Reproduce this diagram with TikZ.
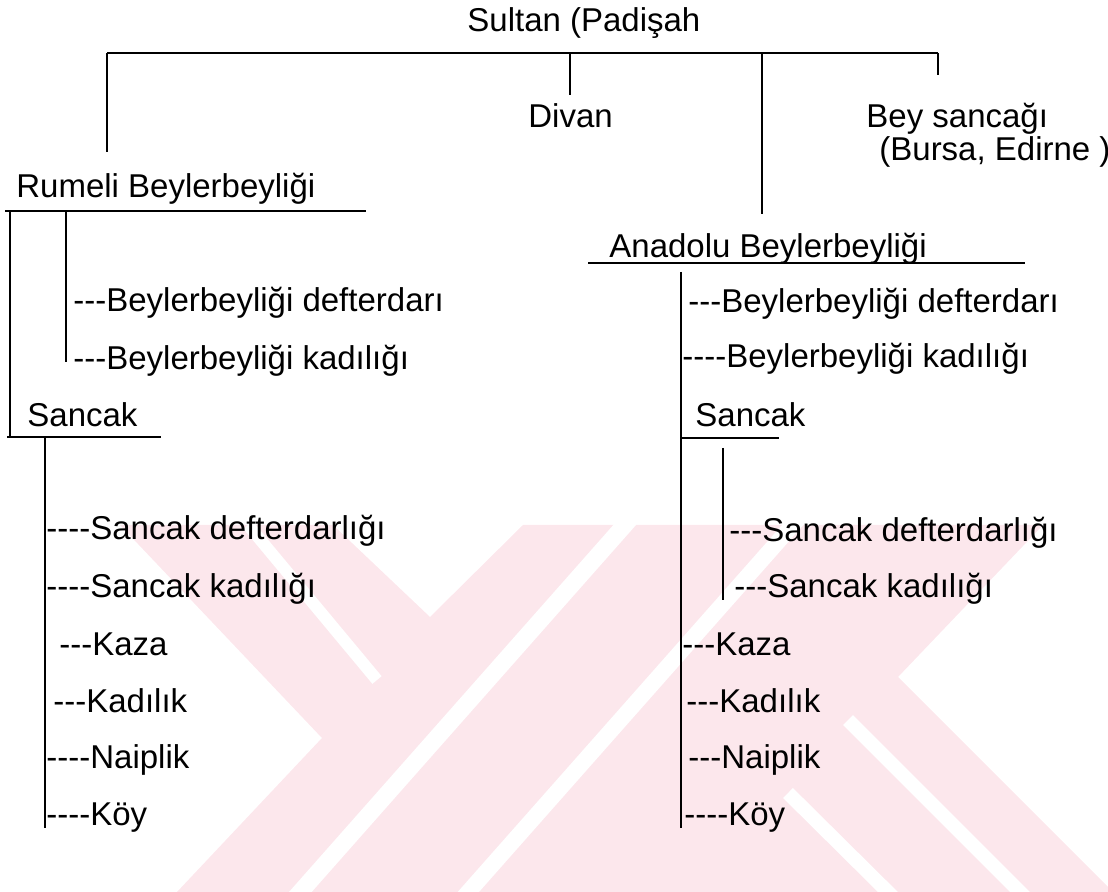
\documentclass[tikz,border=0pt]{standalone}
\usepackage{fontspec}
\setmainfont{Liberation Sans}[Ligatures=TeXOff]
\definecolor{emblem}{RGB}{252,231,236}
\begin{document}
\begin{tikzpicture}[x=0.5pt,y=-0.5pt,
  lbl/.style={anchor=base west, inner sep=0pt, font=\fontsize{16.5}{20}\selectfont},
  tie/.style={line width=1.1pt, line cap=butt},
  gap/.style={white, line width=#1}]
\useasboundingbox (0,0) rectangle (1108,892);

% faint background emblem
\begin{scope}
  \clip (0,525) rectangle (1108,892);
  \fill[emblem] (120,525) -- (333,525) -- (430,617) -- (523,525) -- (1043,525)
     -- (898,677) -- (1113,892) -- (177,892) -- (322,738) -- cycle;
  \draw[gap=6pt]   (248,525) -- (377,680);
  \draw[gap=8.5pt] (280,915) -- (645,502);
  \draw[gap=8pt]   (448,915) -- (813,502);
  \draw[gap=7pt]   (848,720) -- (1030,902);
  \draw[gap=7pt]   (788,793) -- (898,902);
\end{scope}

% texts
\node[lbl] (sultan)  at (467,32)  {Sultan (Padişah};
\node[lbl] (divan)   at (528,128) {Divan};
\node[lbl] (bey)     at (866,128) {Bey sancağı};
\node[lbl] (bursa)   at (879,161) {(Bursa, Edirne )};

\node[lbl] (rumeli)  at (16,198)  {Rumeli Beylerbeyliği};
\node[lbl] (rdef)    at (73,312)  {---Beylerbeyliği defterdarı};
\node[lbl] (rkad)    at (73,370)  {---Beylerbeyliği kadılığı};
\node[lbl] (rsancak) at (27,427)  {Sancak};
\node[lbl] (rsdef)   at (46,540)  {----Sancak defterdarlığı};
\node[lbl] (rskad)   at (46,597)  {----Sancak kadılığı};
\node[lbl] (rkaza)   at (59,655)  {---Kaza};
\node[lbl] (rkadilik) at (53,712) {---Kadılık};
\node[lbl] (rnaip)   at (46,768)  {----Naiplik};
\node[lbl] (rkoy)    at (46,825)  {----Köy};

\node[lbl] (anadolu) at (609,258) {Anadolu Beylerbeyliği};
\node[lbl] (adef)    at (688,313) {---Beylerbeyliği defterdarı};
\node[lbl] (akad)    at (682,368) {----Beylerbeyliği kadılığı};
\node[lbl] (asancak) at (695,427) {Sancak};
\node[lbl] (asdef)   at (729,542) {---Sancak defterdarlığı};
\node[lbl] (askad)   at (734,597) {---Sancak kadılığı};
\node[lbl] (akaza)   at (682,655) {---Kaza};
\node[lbl] (akadilik) at (686,712) {---Kadılık};
\node[lbl] (anaip)   at (688,768) {---Naiplik};
\node[lbl] (akoy)    at (684,825) {----Köy};

% junction points of the tree
\coordinate (barL) at (107,53);
\coordinate (barD) at (570,53);
\coordinate (barA) at (762,53);
\coordinate (barR) at (938,53);
\coordinate (toR)  at (107,152);
\coordinate (toD)  at (570,95);
\coordinate (toA)  at (762,214);
\coordinate (toB)  at (938,75);

\coordinate (rulL) at (5,211);
\coordinate (rulR) at (366,211);
\coordinate (rvTop) at (10,211);
\coordinate (rvBot) at (10,437);
\coordinate (riTop) at (66,211);
\coordinate (riBot) at (66,362);
\coordinate (rsL) at (7,437);
\coordinate (rsR) at (161,437);
\coordinate (rsTop) at (45,437);
\coordinate (rsBot) at (45,828);

\coordinate (aulL) at (588,263);
\coordinate (aulR) at (1025,263);
\coordinate (avTop) at (681,272);
\coordinate (avBot) at (681,828);
\coordinate (asL) at (681,438);
\coordinate (asR) at (779,438);
\coordinate (aiTop) at (723,448);
\coordinate (aiBot) at (723,600);

% connectors
\draw[tie] (barL) -- (barR);
\draw[tie] (barL) -- (toR);
\draw[tie] (barD) -- (toD);
\draw[tie] (barA) -- (toA);
\draw[tie] (barR) -- (toB);

\draw[tie] (rulL) -- (rulR);
\draw[tie] (rvTop) -- (rvBot);
\draw[tie] (riTop) -- (riBot);
\draw[tie] (rsL) -- (rsR);
\draw[tie] (rsTop) -- (rsBot);

\draw[tie] (aulL) -- (aulR);
\draw[tie] (avTop) -- (avBot);
\draw[tie] (asL) -- (asR);
\draw[tie] (aiTop) -- (aiBot);
\end{tikzpicture}
\end{document}
